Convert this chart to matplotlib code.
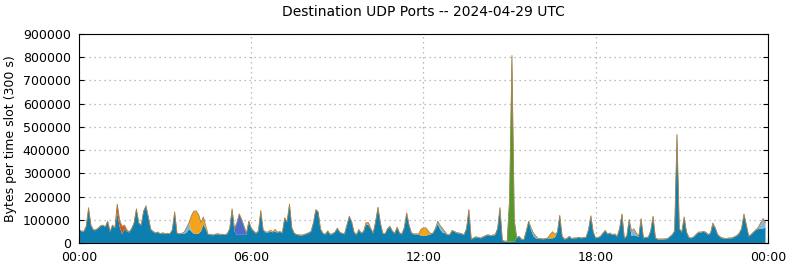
import matplotlib
matplotlib.use('Agg')
import matplotlib.pyplot as plt
import numpy as np

# main (blue) series, thousands of bytes per 5-minute slot, one row per hour
blue_k = [
    55, 50, 48, 70, 150, 75, 55, 55, 62, 72, 75, 68,
    92, 48, 75, 63, 128, 70, 38, 60, 50, 45, 60, 84,
    145, 85, 75, 135, 158, 110, 58, 48, 42, 45, 38, 42,
    38, 40, 38, 55, 132, 40, 38, 40, 40, 45, 60, 50,
    40, 38, 40, 50, 80, 60, 35, 35, 33, 36, 38, 35,
    36, 34, 38, 60, 145, 50, 35, 35, 35, 35, 35, 92,
    62, 50, 40, 50, 138, 55, 45, 45, 48, 46, 50, 44,
    48, 42, 106, 90, 166, 63, 40, 35, 33, 32, 34, 38,
    42, 48, 85, 142, 132, 58, 40, 36, 50, 36, 38, 45,
    62, 45, 40, 37, 75, 113, 90, 45, 34, 56, 41, 48,
    80, 78, 60, 41, 90, 152, 85, 41, 38, 60, 70, 50,
    40, 66, 42, 37, 65, 128, 75, 42, 37, 37, 36, 32,
    30, 30, 35, 37, 41, 60, 82, 58, 45, 42, 34, 34,
    52, 48, 42, 41, 38, 34, 60, 142, 15, 20, 25, 22,
    20, 25, 30, 34, 30, 32, 34, 60, 150, 10, 6, 6,
    6, 5, 5, 22, 27, 15, 13, 50, 92, 55, 30, 20,
    17, 17, 16, 17, 20, 20, 20, 25, 45, 117, 27, 15,
    18, 27, 17, 20, 20, 23, 20, 22, 23, 55, 115, 45,
    20, 22, 27, 40, 52, 37, 41, 34, 37, 27, 60, 123,
    20, 27, 99, 30, 34, 30, 27, 103, 20, 23, 23, 50,
    113, 20, 15, 15, 15, 16, 17, 25, 34, 50, 465, 60,
    45, 110, 45, 22, 20, 25, 35, 45, 45, 48, 45, 35,
    40, 80, 63, 35, 25, 20, 18, 18, 20, 20, 25, 30,
    40, 60, 123, 77, 28, 35, 45, 55, 60, 60, 63, 65,
]

# smaller ports, only the slots where they show (slot -> thousands)
lightblue_k = {44: 5, 45: 20, 46: 25, 47: 5, 150: 10, 151: 15, 152: 15, 153: 5,
               189: 8, 190: 10, 191: 8, 231: 20, 232: 20, 233: 10,
               284: 5, 285: 25, 286: 40, 287: 20}
red_k = {16: 37, 17: 25, 18: 32, 19: 15, 20: 5}
amber_k = {47: 60, 48: 95, 49: 98, 50: 80, 51: 35, 52: 30, 53: 10, 80: 5, 82: 6,
           120: 6, 121: 8, 143: 25, 144: 33, 145: 33, 146: 15,
           197: 15, 198: 26, 199: 10, 232: 5, 265: 4}
royal_k = {65: 10, 66: 50, 67: 88, 68: 65, 69: 35, 70: 5}
green_k = {180: 180, 181: 800, 182: 90}

colors = ['#0c7fb0', '#86b8d2', '#d9531e', '#f4a31a', '#4c6ccb', '#4f9a2c']


def to_array(d, n):
    a = np.zeros(n)
    for k, v in d.items():
        a[k] = v
    return a


def main():
    n = len(blue_k)
    hours = np.arange(n) * 5 / 60.0
    layers = [np.array(blue_k, dtype=float)]
    for d in (lightblue_k, red_k, amber_k, royal_k, green_k):
        layers.append(to_array(d, n))
    layers = [l * 1000 for l in layers]

    fig = plt.figure(figsize=(7.9, 2.67), dpi=100)
    ax = fig.add_axes([0.1, 0.09, 0.872, 0.783])
    ax.stackplot(hours, *layers, colors=colors, linewidth=0)
    # thin rim of the many tiny ports on top of the stack
    total = np.sum(layers, axis=0)
    ax.plot(hours, total + 1500, color='#8f9468', lw=0.6, alpha=0.9)
    ax.plot(hours, total + 2500, color='#c06a2a', lw=0.35, alpha=0.8)

    ax.set_xlim(0, 24)
    ax.set_ylim(0, 900000)
    ax.set_xticks([0, 6, 12, 18, 24])
    ax.set_xticklabels(['00:00', '06:00', '12:00', '18:00', '00:00'])
    ax.set_yticks(np.arange(0, 900001, 100000))
    ax.ticklabel_format(axis='y', style='plain')
    ax.tick_params(direction='in', right=True, labelsize=9, pad=6)
    ax.set_axisbelow(True)
    ax.grid(True, linestyle=(0, (1, 3)), color='#a8a8a8', linewidth=0.9)
    ax.set_ylabel('Bytes per time slot (300 s)', fontsize=9)
    ax.set_title('Destination UDP Ports -- 2024-04-29 UTC', fontsize=10, pad=13)

    fig.savefig('out.png', dpi=100)


if __name__ == "__main__":
    main()
